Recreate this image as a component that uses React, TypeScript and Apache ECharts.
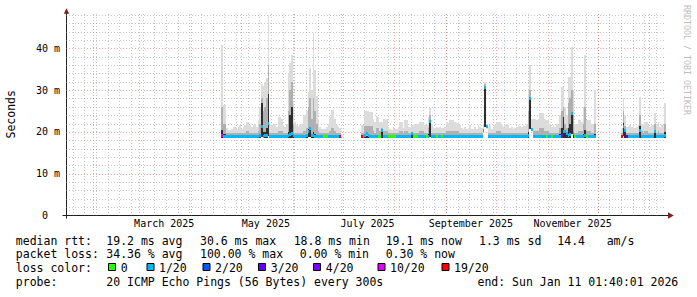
import React, { useEffect, useRef } from 'react';
import * as echarts from 'echarts';

// ---------- time frame ----------
const DAY = 86400000;
const END_TS = Date.UTC(2026, 0, 11, 1, 40, 1);
const START_TS = END_TS - 360 * DAY;

// ---------- tick labels ----------
const X_LABELS = ['March 2025', 'May 2025', 'July 2025', 'September 2025', 'November 2025'];
const X_LABEL_MONTHS = [2, 4, 6, 8, 10];
const Y_MAJOR = [10, 20, 30, 40];
const Y_MINOR = [2, 4, 6, 8, 12, 14, 16, 18, 22, 24, 26, 28, 32, 34, 36, 38, 42, 44, 46, 48];

// ---------- loss legend ----------
const LOSS_COLORS = ['#26ff00', '#00b8ff', '#0059ff', '#5e00ff', '#7e00ff', '#dd00ff', '#ff0000'];
const LOSS_LABELS = ['0', '1/20', '2/20', '3/20', '4/20', '10/20', '19/20'];

// ---------- data (ms), one value per day, day index from START ----------
// segment 1
const SEG1_START = 93;
const SEG1_TOP = [
  40.8, 26.4, 26.4, 21.0, 20.4, 20.4, 20.6, 21.2, 21.2, 20.6,
  21.2, 21.6, 20.8, 21.2, 21.6, 22.4, 22.4, 21.6, 21.2, 21.6,
  22.0, 21.2, 22.8, 26.0, 31.4, 31.0, 32.0, 33.0, 48.0, 22.0,
  21.6, 21.6, 22.0, 21.2, 23.6, 23.6, 23.0, 21.6, 21.2, 22.0,
  34.0, 36.4, 38.5, 27.0, 22.4, 21.6, 21.2, 21.6, 22.0, 24.0,
  24.0, 25.0, 29.6, 35.2, 30.0, 43.6, 34.8, 28.7, 23.0, 21.2,
  20.8, 20.8, 20.8, 21.2, 22.0, 23.6, 25.2, 25.2, 23.0, 21.6,
  21.2, 21.0,
];
const SEG1_MD = [
  26, 22, 22, 19.8, 19.8, 19.8, 19.8, 19.8, 19.8, 19.8,
  19.8, 19.8, 19.8, 19.8, 19.8, 20.1, 20.1, 19.8, 19.8, 19.8,
  19.8, 19.8, 20.1, 22, 28, 25, 26, 28, 36, 19.8,
  19.8, 19.8, 19.8, 19.8, 20.3, 20.3, 20.1, 19.8, 19.8, 19.8,
  25, 30, 32, 22, 19.8, 19.8, 19.8, 19.8, 19.8, 20.3,
  20.3, 21, 26, 28, 23, 28, 25, 22, 20.1, 19.8,
  19.8, 19.8, 19.8, 19.8, 19.8, 20.3, 21, 21, 20.1, 19.8,
  19.8, 19.8,
];
const SEG1_DK = [
  20.5, 19.5, 19.5, 19, 19, 19, 19, 19, 19, 19,
  19, 19, 19, 19, 19, 19, 19, 19, 19, 19,
  19, 19, 19, 19.5, 27, 20, 20, 21, 29, 19,
  19, 19, 19, 19, 19, 19, 19, 19, 19, 19,
  20, 24, 26, 19.5, 19, 19, 19, 19, 19, 19,
  19, 19, 20.8, 21, 19.5, 20, 19.5, 19, 19, 19,
  19, 19, 19, 19, 19, 19, 19, 19, 19, 19,
  19, 19,
];
const SEG1_LO = [
  18.6, 18.6, 18.6, 18.6, 18.6, 18.6, 18.6, 18.6, 18.6, 18.6,
  18.6, 18.6, 18.6, 18.6, 18.6, 18.6, 18.6, 18.6, 18.6, 18.6,
  18.6, 18.6, 18.6, 18.6, 18.8, 18.6, 18.6, 18.6, 19.0, 18.6,
  18.6, 18.6, 18.6, 18.6, 18.6, 18.6, 18.6, 18.6, 18.6, 18.6,
  18.6, 18.6, 18.6, 18.6, 18.6, 18.6, 18.6, 18.6, 18.6, 18.6,
  18.6, 18.6, 18.8, 18.8, 18.6, 18.6, 18.6, 18.6, 18.6, 18.6,
  18.6, 18.6, 18.6, 18.6, 18.6, 18.6, 18.6, 18.6, 18.6, 18.6,
  18.6, 18.6,
];
const SEG1_MED = [
  19.2, 19.0, 19.0, 19.0, 19.0, 18.9, 19.0, 19.0, 19.0, 19.0,
  19.0, 19.0, 19.0, 19.0, 19.0, 19.0, 19.0, 19.0, 19.0, 19.0,
  19.0, 19.0, 19.0, 19.1, 21.2, 19.0, 19.1, 19.2, 22.0, 19.0,
  19.0, 19.0, 19.0, 19.0, 19.0, 19.0, 19.0, 19.0, 19.0, 19.0,
  19.2, 19.4, 19.7, 19.2, 19.0, 19.0, 19.0, 19.0, 19.0, 19.0,
  19.0, 19.1, 20.0, 20.8, 19.2, 19.1, 19.0, 19.0, 19.0, 19.0,
  19.0, 19.0, 19.0, 19.0, 19.0, 19.0, 19.0, 19.0, 19.0, 19.0,
  19.0, 19.0,
];
const SEG1_LOSS = [
  5, 1, 1, 1, 1, 1, 1, 1, 1, 1,
  1, 1, 1, 1, 1, 1, 1, 1, 1, 1,
  1, 1, 1, 1, 1, 1, 1, 1, 1, 1,
  1, 1, 1, 1, 1, 1, 1, 1, 1, 1,
  1, 1, 1, 1, 1, 1, 1, 1, 1, 1,
  1, 1, 1, 1, 1, 1, 1, 1, 1, 1,
  1, 0, 0, 0, 1, 1, 1, 1, 1, 1,
  1, 6,
];

// segment 2
const SEG2_START = 177;
const SEG2_TOP = [
  21.6, 21.6, 25.0, 25.0, 25.0, 24.8, 24.8, 23.0, 22.4, 23.6,
  23.6, 22.4, 22.4, 23.2, 23.2, 23.2, 21.2, 20.6, 20.4, 21.2,
  20.8, 20.6, 21.2, 22.4, 22.4, 21.0, 22.8, 22.8, 21.2, 21.2,
  21.6, 21.6, 22.0, 22.0, 22.0, 22.4, 22.4, 22.4, 21.6, 21.6,
  23.5, 25.6, 22.0, 21.2, 20.9, 21.2, 20.9, 21.2, 21.0, 20.9,
  21.2, 22.4, 22.1, 22.8, 22.8, 22.8, 22.4, 22.1, 22.4, 21.6,
  21.0, 20.8, 21.2, 20.6, 21.0, 21.6, 20.8, 20.6, 21.2, 20.8,
  21.6, 21.2, 21.0, 22.0, 32.0, 22.0, 21.2, 21.6, 20.8, 21.2,
  21.6, 22.4, 22.4, 22.4, 21.6, 21.2, 21.6, 21.8, 21.6, 21.0,
  21.2, 20.8, 21.0, 21.2, 21.6, 21.4, 21.2, 21.6, 21.4, 22.0,
  30.0, 36.0, 23.0, 23.0, 23.0, 22.8, 23.0, 24.4, 24.4, 24.4,
  23.2, 22.9, 23.2, 22.0, 21.2, 21.6, 21.2, 22.0, 21.6, 24.0,
  30.8, 30.8, 26.0, 24.0, 33.2, 33.2, 40.4, 30.0, 22.0, 22.0,
  22.8, 22.8, 22.4, 26.0, 38.4, 22.8, 22.8, 22.8, 22.0, 22.0,
  30.0,
];
const SEG2_MD = [
  19.8, 19.8, 21.5, 21.5, 21.5, 21.5, 21.5, 20.1, 19.8, 21,
  21, 20.1, 21, 20.3, 20.3, 20.3, 19.8, 19.8, 19.8, 19.8,
  19.8, 19.8, 19.8, 20.1, 20.1, 19.8, 20.3, 20.3, 19.8, 19.8,
  19.8, 19.8, 19.8, 19.8, 19.8, 20.1, 20.1, 20.1, 19.8, 19.8,
  21, 24, 19.8, 19.8, 19.8, 19.8, 19.8, 19.8, 19.8, 19.8,
  19.8, 20.1, 20.1, 20.3, 20.3, 20.3, 20.1, 20.1, 20.1, 19.8,
  19.8, 19.8, 19.8, 19.8, 19.8, 19.8, 19.8, 19.8, 19.8, 19.8,
  19.8, 19.8, 19.8, 20.6, 31.5, 20.8, 19.8, 19.8, 19.8, 19.8,
  19.8, 20.1, 20.1, 20.1, 19.8, 19.8, 19.8, 19.8, 19.8, 19.8,
  19.8, 19.8, 19.8, 19.8, 19.8, 19.8, 19.8, 19.8, 19.8, 19.8,
  25, 30, 21, 20.3, 20.3, 20.3, 20.3, 21, 21, 21,
  20.3, 20.1, 20.3, 19.8, 19.8, 19.8, 19.8, 19.8, 19.8, 21,
  25, 26, 22, 21, 27, 28, 30, 24, 19.8, 19.8,
  20.1, 20.1, 20.1, 22, 26, 20.1, 20.1, 20.1, 19.8, 19.8,
  22,
];
const SEG2_DK = [
  19, 19, 19, 19, 19, 19, 19, 19, 19, 19,
  19, 19, 20.4, 19, 19, 19, 19, 19, 19, 19,
  19, 19, 19, 19, 19, 19, 19, 19, 19, 19,
  19.6, 19, 19, 19, 19, 19, 19, 19, 19, 19,
  19.5, 22.4, 19, 19, 19, 19, 19, 19, 19, 19,
  19, 19, 19, 19, 19, 19, 19, 19, 19, 19,
  19, 19, 19, 19, 19, 19, 19, 19, 19, 19,
  19, 19, 19, 20.3, 30.7, 21.2, 19, 19, 19, 19,
  19, 19, 19, 19, 19, 19, 19, 19, 19, 19,
  19, 19, 19, 19, 19, 19, 19, 19, 19, 19,
  20, 28, 20.6, 19, 19, 19, 19, 19, 19, 19,
  19, 19, 19, 19, 19, 19, 19, 19, 19, 19.5,
  21, 23.6, 20, 19.5, 21, 22, 24.4, 20, 19, 19,
  19, 19, 19, 19.5, 20.5, 19, 19, 19, 19, 19,
  19.5,
];
const SEG2_LO = [
  18.6, 18.6, 18.6, 18.6, 18.6, 18.6, 18.6, 18.6, 18.6, 18.6,
  18.6, 18.6, 18.6, 18.6, 18.6, 18.6, 18.6, 18.6, 18.6, 18.6,
  18.6, 18.6, 18.6, 18.6, 18.6, 18.6, 18.6, 18.6, 18.6, 18.6,
  18.6, 18.6, 18.6, 18.6, 18.6, 18.6, 18.6, 18.6, 18.6, 18.6,
  18.6, 18.8, 18.6, 18.6, 18.6, 18.6, 18.6, 18.6, 18.6, 18.6,
  18.6, 18.6, 18.6, 18.6, 18.6, 18.6, 18.6, 18.6, 18.6, 18.6,
  18.6, 18.6, 18.6, 18.6, 18.6, 18.6, 18.6, 18.6, 18.6, 18.6,
  18.6, 18.6, 18.6, 20.3, 21.2, 21.2, 18.6, 18.6, 18.6, 18.6,
  18.6, 18.6, 18.6, 18.6, 18.6, 18.6, 18.6, 18.6, 18.6, 18.6,
  18.6, 18.6, 18.6, 18.6, 18.6, 18.6, 18.6, 18.6, 18.6, 18.6,
  18.6, 20.6, 20.6, 18.6, 18.6, 18.6, 18.6, 18.6, 18.6, 18.6,
  18.6, 18.6, 18.6, 18.6, 18.6, 18.6, 18.6, 18.6, 18.6, 18.6,
  18.6, 18.6, 18.6, 18.6, 18.6, 18.6, 19.5, 18.6, 18.6, 18.6,
  18.6, 18.6, 18.6, 18.6, 18.6, 18.6, 18.6, 18.6, 18.6, 18.6,
  18.6,
];
const SEG2_MED = [
  19.0, 19.0, 19.2, 19.5, 19.2, 19.0, 19.0, 19.0, 19.0, 19.0,
  19.0, 19.0, 20.4, 19.0, 19.0, 19.0, 19.0, 19.0, 19.0, 19.0,
  19.0, 19.0, 19.0, 19.0, 19.0, 19.0, 19.0, 19.0, 19.0, 19.0,
  19.6, 19.0, 19.0, 19.0, 19.0, 19.0, 19.0, 19.0, 19.0, 19.0,
  19.0, 22.5, 19.0, 19.0, 19.0, 19.0, 19.0, 19.0, 19.0, 19.0,
  19.0, 19.0, 19.0, 19.0, 19.0, 19.0, 19.0, 19.0, 19.0, 19.0,
  19.0, 19.0, 19.0, 19.0, 19.0, 19.0, 19.0, 19.0, 19.0, 19.0,
  19.0, 19.0, 19.0, 20.3, 30.7, 21.2, 19.0, 19.0, 19.0, 19.0,
  19.0, 19.0, 19.0, 19.0, 19.0, 19.0, 19.0, 19.0, 19.0, 19.0,
  19.0, 19.0, 19.0, 19.0, 19.0, 19.0, 19.0, 19.0, 19.0, 19.0,
  19.2, 28.0, 20.6, 19.0, 19.0, 19.0, 19.0, 19.0, 19.0, 19.0,
  19.0, 19.0, 19.0, 19.0, 19.0, 19.0, 19.0, 19.0, 19.0, 19.0,
  19.2, 20.0, 20.0, 19.6, 19.2, 19.4, 24.4, 19.6, 19.0, 19.0,
  19.0, 19.0, 19.0, 19.0, 19.2, 19.0, 19.0, 19.0, 19.0, 19.0,
  19.0,
];
const SEG2_LOSS = [
  6, 1, 1, 1, 1, 1, 1, 1, 1, 1,
  0, 0, 1, 1, 1, 1, 0, 0, 0, 0,
  0, 1, 1, 1, 1, 1, 1, 1, 1, 1,
  1, 0, 0, 0, 1, 1, 1, 1, 1, 0,
  1, 1, 1, 1, 1, 0, 1, 1, 0, 1,
  1, 1, 1, 1, 1, 1, 1, 1, 1, 1,
  1, 1, 1, 1, 1, 1, 1, 1, 1, 1,
  1, 1, 1, 1, 1, 1, 1, 1, 1, 1,
  1, 1, 1, 1, 1, 1, 1, 1, 1, 1,
  1, 1, 1, 1, 1, 1, 1, 1, 1, 1,
  1, 1, 1, 1, 1, 1, 1, 1, 1, 1,
  1, 0, 1, 1, 0, 1, 1, 1, 1, 1,
  3, 1, 1, 1, 1, 1, 1, 1, 0, 1,
  1, 1, 1, 1, 1, 0, 1, 1, 1, 1,
  1,
];

// segment 3
const SEG3_START = 333;
const SEG3_TOP = [
  21.0, 28.2, 24.0, 21.2, 21.4, 21.6, 21.2, 21.6, 21.0, 21.2,
  21.6, 28.4, 22.0, 21.6, 22.4, 22.4, 21.6, 21.2, 21.6, 21.6,
  24.4, 22.0, 22.4, 21.2, 21.6, 22.0, 26.8,
];
const SEG3_MD = [
  19.8, 25, 21.5, 19.8, 19.8, 19.8, 19.8, 19.8, 19.8, 19.8,
  19.8, 24, 20.1, 19.8, 20.1, 20.1, 19.8, 19.8, 19.8, 19.8,
  22, 19.8, 20.1, 19.8, 19.8, 19.8, 22,
];
const SEG3_DK = [
  19, 22.2, 20.4, 19, 19, 19, 19, 19, 19, 19,
  19, 21.5, 19, 19, 19, 19, 19, 19, 19, 19,
  20.5, 19, 19, 19, 19, 19, 20,
];
const SEG3_LO = [
  18.6, 19.0, 18.6, 18.6, 18.6, 18.6, 18.6, 18.6, 18.6, 18.6,
  18.6, 18.6, 18.6, 18.6, 18.6, 18.6, 18.6, 18.6, 18.6, 18.6,
  18.6, 18.6, 18.6, 18.6, 18.6, 18.6, 18.6,
];
const SEG3_MED = [
  19.0, 21.2, 20.4, 19.0, 19.0, 19.0, 19.0, 19.0, 19.0, 19.0,
  19.0, 20.4, 19.0, 19.0, 19.0, 19.0, 19.0, 19.0, 19.0, 19.0,
  20.2, 19.0, 19.0, 19.0, 19.0, 19.0, 19.2,
];
const SEG3_LOSS = [
  6, 1, 1, 3, 1, 1, 1, 1, 1, 1,
  1, 1, 1, 1, 1, 1, 1, 1, 1, 1,
  1, 1, 1, 1, 1, 1, 1,
];

// ---------- legend statistics ----------
const STAT_ROWS: [number, string][][] = [
  [[15.8, 'median rtt:'], [106.3, '19.2 ms avg'], [200, '30.6 ms max'], [293.7, '18.8 ms min'], [385.7, '19.1 ms now'], [479, '1.3 ms sd'], [557.3, '14.4'], [606.7, 'am/s']],
  [[15.8, 'packet loss:'], [106.3, '34.36 % avg'], [200, '100.00 % max'], [299.8, '0.00 % min'], [385.7, '0.30 % now']],
  [[15.8, 'loss color:']],
  [[15.8, 'probe:'], [106.3, '20 ICMP Echo Pings (56 Bytes) every 300s'], [477.5, 'end: Sun Jan 11 01:40:01 2026']],
];
const ROW_Y = [240.7, 254.3, 268.3, 282.3];
const LOSS_BOX_X = [108.5, 147, 203, 258.5, 313.5, 378, 442];
const LOSS_TEXT_X = [120.7, 159, 215.1, 270.8, 325.8, 390, 454];

// ---------- styles ----------
const MONO = 'DejaVu Sans Mono';
const C_DARK = '#2e2e2e';
const C_MID = '#b0b0b0';
const C_LIGHT = '#dcdcdc';
const C_GRID = 'rgba(143,143,143,0.5)';
const C_MGRID = 'rgba(222,79,79,0.5)';
const C_AXIS = '#1f1f1f';
const C_ARROW = '#801f1f';

type Seg = { start: number; top: number[]; md: number[]; dk: number[]; lo: number[]; med: number[]; loss: number[] };
const SEGMENTS: Seg[] = [
  { start: SEG1_START, top: SEG1_TOP, md: SEG1_MD, dk: SEG1_DK, lo: SEG1_LO, med: SEG1_MED, loss: SEG1_LOSS },
  { start: SEG2_START, top: SEG2_TOP, md: SEG2_MD, dk: SEG2_DK, lo: SEG2_LO, med: SEG2_MED, loss: SEG2_LOSS },
  { start: SEG3_START, top: SEG3_TOP, md: SEG3_MD, dk: SEG3_DK, lo: SEG3_LO, med: SEG3_MED, loss: SEG3_LOSS },
];

function buildOption() {
  const smoke: number[][] = [];
  const median: number[][] = [];
  SEGMENTS.forEach((s) => {
    s.top.forEach((top, k) => {
      const t = START_TS + (s.start + k) * DAY;
      smoke.push([t, s.lo[k], s.dk[k], s.md[k], top]);
      median.push([t, s.med[k], s.loss[k]]);
    });
  });

  const monthStarts: number[][] = [];
  for (let m = 1; m <= 12; m++) monthStarts.push([Date.UTC(2025, m, 1), 0]);
  const mondays: number[][] = [];
  for (let t = Date.UTC(2025, 0, 20); t < END_TS; t += 7 * DAY) mondays.push([t, 0]);
  const labelTs = X_LABEL_MONTHS.map((m) => Date.UTC(2025, m, 1) + 15 * DAY);

  const vLine = (color: string) => (params: any, api: any) => {
    const cs = params.coordSys;
    const x = Math.round(api.coord([api.value(0), 0])[0]) + 0.5;
    return { type: 'line', shape: { x1: x, y1: cs.y, x2: x, y2: cs.y + cs.height }, style: { stroke: color, lineWidth: 1, lineDash: [1, 2] } };
  };
  const hLine = (color: string) => (params: any, api: any) => {
    const cs = params.coordSys;
    const y = Math.round(api.coord([START_TS, api.value(1)])[1]) + 0.5;
    return { type: 'line', shape: { x1: cs.x, y1: y, x2: cs.x + cs.width, y2: y }, style: { stroke: color, lineWidth: 1, lineDash: [1, 2] } };
  };

  const graphic: any[] = [];
  graphic.push({ type: 'line', silent: true, shape: { x1: 62.5, y1: 215.5, x2: 669, y2: 215.5 }, style: { stroke: C_AXIS, lineWidth: 1 } });
  graphic.push({ type: 'line', silent: true, shape: { x1: 66.5, y1: 218.5, x2: 66.5, y2: 12 }, style: { stroke: C_AXIS, lineWidth: 1 } });
  graphic.push({ type: 'polygon', silent: true, shape: { points: [[668, 212.3], [673.8, 215.5], [668, 218.7]] }, style: { fill: C_ARROW } });
  graphic.push({ type: 'polygon', silent: true, shape: { points: [[63.8, 13.8], [66.5, 8.2], [69.2, 13.8]] }, style: { fill: C_ARROW } });
  graphic.push({
    type: 'text', silent: true, x: 10.8, y: 114.3, rotation: Math.PI / 2,
    style: { text: 'Seconds', fontFamily: MONO, fontSize: 11.5, fill: '#000', align: 'center', verticalAlign: 'middle' },
  });
  graphic.push({
    type: 'text', silent: true, x: 691, y: 5, rotation: -Math.PI / 2,
    style: { text: 'RRDTOOL / TOBI OETIKER', fontFamily: MONO, fontSize: 8.3, fill: '#bdbdbd', align: 'left', verticalAlign: 'top' },
  });
  STAT_ROWS.forEach((row, r) => {
    row.forEach(([x, text]) => {
      graphic.push({ type: 'text', silent: true, x, y: ROW_Y[r], style: { text, fontFamily: MONO, fontSize: 11.5, fill: '#000', align: 'left', verticalAlign: 'middle' } });
    });
  });
  LOSS_COLORS.forEach((c, i) => {
    graphic.push({ type: 'rect', silent: true, shape: { x: LOSS_BOX_X[i], y: 263.5, width: 7, height: 7 }, style: { fill: c, stroke: '#000', lineWidth: 1 } });
    graphic.push({ type: 'text', silent: true, x: LOSS_TEXT_X[i], y: ROW_Y[2], style: { text: LOSS_LABELS[i], fontFamily: MONO, fontSize: 11.5, fill: '#000', align: 'left', verticalAlign: 'middle' } });
  });

  return {
    animation: false,
    backgroundColor: '#ffffff',
    grid: { left: 66, right: 31, top: 14, bottom: 81.5, containLabel: false, outerBoundsMode: 'none' },
    xAxis: {
      type: 'value', min: START_TS, max: END_TS,
      axisLine: { show: true, lineStyle: { color: C_AXIS, width: 1 } },
      axisTick: { show: false },
      splitLine: { show: false },
      axisLabel: {
        customValues: labelTs,
        formatter: (v: number) => { const i = labelTs.indexOf(v); return i >= 0 ? X_LABELS[i] : ''; },
        margin: 3, color: '#000', fontFamily: MONO, fontSize: 10,
      },
    },
    yAxis: {
      type: 'value', min: 0, max: 48.2, interval: 10,
      axisLine: { show: true, lineStyle: { color: C_AXIS, width: 1 } },
      axisTick: { show: false },
      splitLine: { show: false },
      axisLabel: {
        margin: 6, color: '#000', fontFamily: MONO, fontSize: 10,
        formatter: (v: number) => (v === 0 ? '{z|0}' : (v % 10 === 0 ? v + ' m' : '')),
        rich: { z: { padding: [0, 12, 0, 0], fontFamily: MONO, fontSize: 10, color: '#000' } },
      },
    },
    graphic,
    series: [
      { type: 'custom', name: 'minor-x', z: 1, silent: true, data: mondays, renderItem: vLine(C_GRID) },
      { type: 'custom', name: 'minor-y', z: 1, silent: true, data: Y_MINOR.map((v) => [START_TS, v]), renderItem: hLine(C_GRID) },
      { type: 'custom', name: 'major-x', z: 1, silent: true, data: monthStarts, renderItem: vLine(C_MGRID) },
      { type: 'custom', name: 'major-y', z: 1, silent: true, data: Y_MAJOR.map((v) => [START_TS, v]), renderItem: hLine(C_MGRID) },
      {
        type: 'custom', name: 'smoke', z: 2, silent: true, data: smoke,
        renderItem: (params: any, api: any) => {
          const t = api.value(0);
          const xa = Math.round(api.coord([t, 0])[0]);
          const xb = Math.round(api.coord([t + DAY, 0])[0]);
          const w = Math.max(1, xb - xa);
          const Y = (v: number) => Math.round(api.coord([t, v])[1]);
          const children: any[] = [];
          const band = (a: number, b: number, fill: string) => {
            const y0 = Y(a), y1 = Y(b);
            if (y0 > y1) children.push({ type: 'rect', shape: { x: xa, y: y1, width: w, height: y0 - y1 }, style: { fill } });
          };
          band(api.value(1), api.value(2), C_DARK);
          band(api.value(2), api.value(3), C_MID);
          band(api.value(3), api.value(4), C_LIGHT);
          return { type: 'group', children };
        },
      },
      {
        type: 'custom', name: 'median rtt', z: 3, silent: true, data: median,
        renderItem: (params: any, api: any) => {
          const t = api.value(0);
          const xa = Math.round(api.coord([t, 0])[0]);
          const xb = Math.round(api.coord([t + DAY, 0])[0]);
          const w = Math.max(1, xb - xa);
          const yc = api.coord([t, api.value(1)])[1];
          return { type: 'rect', shape: { x: xa, y: Math.round(yc - 1.5), width: w, height: 3 }, style: { fill: LOSS_COLORS[api.value(2)] } };
        },
      },
    ],
  };
}

export default function App() {
  const ref = useRef<HTMLDivElement>(null);
  useEffect(() => {
    document.body.style.margin = '0';
    const chart = echarts.init(ref.current as HTMLDivElement, null, { renderer: 'svg' });
    chart.setOption(buildOption() as any);
    return () => chart.dispose();
  }, []);
  return <div ref={ref} style={{ width: 697, height: 297 }} />;
}
